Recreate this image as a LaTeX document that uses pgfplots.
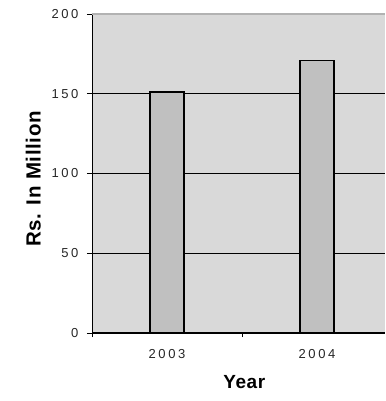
\documentclass[border=0pt]{standalone}
\usepackage{fontspec}
\setmainfont{Liberation Sans}
\newfontfamily\tickfont[LetterSpace=20]{Liberation Sans}
\newfontfamily\labelfont[LetterSpace=3]{Liberation Sans}
\usepackage{pgfplots}
\pgfplotsset{compat=1.18}
\definecolor{plotbg}{RGB}{217,217,217}
\definecolor{barfill}{RGB}{192,192,192}
\definecolor{topline}{RGB}{178,178,178}
\begin{document}
\begin{tikzpicture}
\useasboundingbox (0,0) rectangle (385pt,401pt);
\begin{axis}[
  at={(92pt,68pt)}, anchor=south west,
  scale only axis,
  width=293pt, height=319pt,
  xmin=0, xmax=1.9533,
  ymin=0, ymax=200,
  axis x line*=bottom, axis y line*=left,
  axis line style={black, line width=1pt},
  axis background/.style={fill=plotbg},
  ybar, bar width=34pt,
  xtick={0.5,1.5}, xticklabels={2003,2004},
  major x tick style={draw=none},
  minor xtick={0,1},
  minor x tick style={black, line width=0.8pt},
  minor tick length=4pt,
  ytick={0,50,100,150,200},
  y tick style={black, line width=0.8pt},
  major tick length=5pt,
  tick align=outside,
  ymajorgrids, grid style={black, line width=0.8pt},
  xticklabel style={font=\tickfont\fontsize{13}{15}\selectfont, yshift=-8pt, text=black!85},
  yticklabel style={font=\tickfont\fontsize{13}{15}\selectfont, xshift=-5pt, text=black!85},
  /pgf/number format/assume math mode=true,
  xlabel={\labelfont\bfseries Year},
  ylabel={\labelfont\bfseries Rs. In Million},
  xlabel style={font=\fontsize{19}{22}\selectfont, at={(axis description cs:0.52,-0.155)}, anchor=center},
  ylabel style={font=\fontsize{20.5}{24}\selectfont, at={(axis description cs:-0.2,0.483)}, anchor=center},
  clip=false,
]
\addplot[fill=barfill, draw=black, line width=1.5pt, bar shift=0pt] coordinates {(0.5,151) (1.5,171)};
\draw[topline, line width=2pt] (axis cs:0,200) -- (axis cs:1.9533,200);
\end{axis}
\end{tikzpicture}
\end{document}
